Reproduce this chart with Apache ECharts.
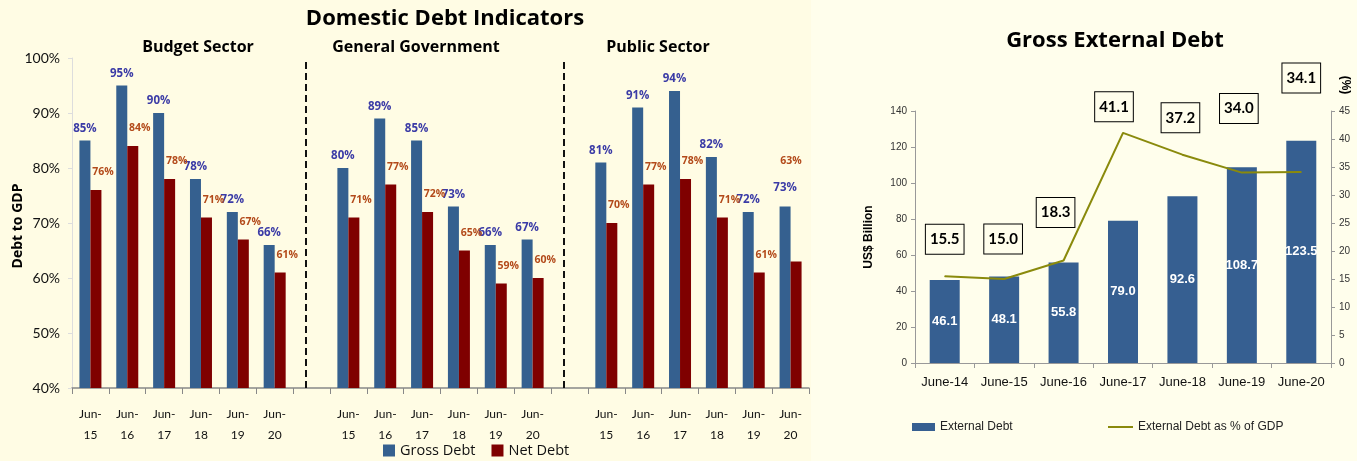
<!DOCTYPE html>
<html>
<head>
<meta charset="utf-8">
<script src="https://cdn.jsdelivr.net/npm/echarts@6/dist/echarts.min.js"></script>
<style>
html,body{margin:0;padding:0;background:#FFFDE9;}
#c{width:1357px;height:461px;}
</style>
</head>
<body>
<div id="c"></div>
<script>
// ---- Domestic debt (percent of GDP) ----
const years = ['15','16','17','18','19','20'];
const budgetGross = [85, 95, 90, 78, 72, 66];
const budgetNet   = [76, 84, 78, 71, 67, 61];
const govGross    = [80, 89, 85, 73, 66, 67];
const govNet      = [71, 77, 72, 65, 59, 60];
const publicGross = [81, 91, 94, 82, 72, 73];
const publicNet   = [70, 77, 78, 71, 61, 63];
const sectorNames = ['Budget Sector', 'General Government', 'Public Sector'];
const domesticTicks = [40, 50, 60, 70, 80, 90, 100];

// ---- External debt ----
const extYears = ['June-14','June-15','June-16','June-17','June-18','June-19','June-20'];
const extDebt  = [46.1, 48.1, 55.8, 79.0, 92.6, 108.7, 123.5];
const extPct   = [15.5, 15.0, 18.3, 41.1, 37.2, 34.0, 34.1];

// build category axis with gap slots between sectors
const cats = [];
const grossData = [];
const netData = [];
[[budgetGross, budgetNet], [govGross, govNet], [publicGross, publicNet]].forEach((pair, s) => {
  if (s > 0) { cats.push(''); grossData.push('-'); netData.push('-'); }
  years.forEach((y, i) => {
    cats.push('Jun-\n' + y);
    grossData.push(pair[0][i]);
    netData.push(pair[1][i]);
  });
});
const gapIdx = [];
cats.forEach((c, i) => { if (c === '') gapIdx.push(i); });

// label placement tweaks (presentation only)
const netLabelOverride = {19: [-5, -90]};
const grossLabelOverride = {19: [0, -8]};
const pctLabelShift = [[0,-17],[-1,-20],[-8,-28],[-9,-6],[-2,-17],[-3,-44],[0,-74]];

const F = 'Lato, "Open Sans", sans-serif';
const O = '"Open Sans", Lato, sans-serif';
const A = '"Liberation Sans", Arial, sans-serif';

const grossSeriesData = grossData.map((v, i) => {
  if (grossLabelOverride[i]) return {value: v, label: {offset: grossLabelOverride[i]}};
  return v;
});
const netSeriesData = netData.map((v, i) => {
  if (netLabelOverride[i]) return {value: v, label: {offset: netLabelOverride[i]}};
  return v;
});
const pctSeriesData = extPct.map((v, i) => ({value: v, label: {offset: pctLabelShift[i]}}));

const chart = echarts.init(document.getElementById('c'), null, {renderer: 'canvas'});
const option = {
  backgroundColor: '#FFFDE9',
  animation: false,
  title: [
    {text: 'Domestic Debt Indicators', left: 440, top: 3, textAlign: 'center',
     textStyle: {fontFamily: O, fontSize: 22, fontWeight: 'bold', color: '#000'}},
    {text: 'Gross External Debt', left: 1110, top: 25, textAlign: 'center',
     textStyle: {fontFamily: O, fontSize: 22, fontWeight: 'bold', color: '#000'}}
  ],
  graphic: [
    {type: 'rect', z: -10, silent: true, shape: {x: 0, y: 0, width: 811, height: 461}, style: {fill: '#FFFCE4'}},
    {type: 'rect', z: -10, silent: true, shape: {x: 811, y: 0, width: 546, height: 461}, style: {fill: '#FFFEEC'}},
    {type: 'text', x: 198, y: 47, style: {text: sectorNames[0], font: 'bold 16px ' + O, fill: '#000', align: 'center', verticalAlign: 'middle'}},
    {type: 'text', x: 416, y: 47, style: {text: sectorNames[1], font: 'bold 16px ' + O, fill: '#000', align: 'center', verticalAlign: 'middle'}},
    {type: 'text', x: 658, y: 47, style: {text: sectorNames[2], font: 'bold 16px ' + O, fill: '#000', align: 'center', verticalAlign: 'middle'}},
    {type: 'text', x: 18, y: 226, rotation: Math.PI / 2,
     style: {text: 'Debt to GDP', font: 'bold 14px ' + O, fill: '#000', align: 'center', verticalAlign: 'middle'}},
    {type: 'text', x: 869, y: 237, rotation: Math.PI / 2,
     style: {text: 'US$ Billion', font: 'bold 12px ' + A, fill: '#000', align: 'center', verticalAlign: 'middle'}},
    {type: 'text', x: 1345, y: 85, rotation: -Math.PI / 2,
     style: {text: '(%)', font: 'bold 12px ' + A, fill: '#000', align: 'center', verticalAlign: 'middle'}}
  ],
  legend: [
    {data: ['Gross Debt', 'Net Debt'], left: 383, top: 443, itemWidth: 12, itemHeight: 12, itemGap: 16,
     icon: 'rect', textStyle: {fontFamily: O, fontSize: 14.5, color: '#111'}, padding: 0},
    {data: [{name: 'External Debt', icon: 'rect'}], left: 912, top: 421, itemWidth: 23, itemHeight: 8, padding: 0,
     textStyle: {fontFamily: A, fontSize: 12, color: '#222'}},
    {data: [{name: 'External Debt as % of GDP', icon: 'rect'}], left: 1108, top: 421, itemWidth: 25, itemHeight: 2, padding: 0,
     textStyle: {fontFamily: A, fontSize: 12, color: '#222'}}
  ],
  grid: [
    {left: 72, right: 548, top: 58, bottom: 73},
    {left: 915, right: 26, top: 111, bottom: 98}
  ],
  xAxis: [
    {type: 'category', gridIndex: 0, data: cats,
     axisLine: {lineStyle: {color: '#888', width: 1.5}},
     axisTick: {show: true, interval: 0, length: 6, lineStyle: {color: '#888'}},
     axisLabel: {interval: 0, margin: 16, fontFamily: F, fontSize: 12, lineHeight: 21, color: '#111'}},
    {type: 'category', gridIndex: 1, data: extYears,
     axisLine: {lineStyle: {color: '#999'}},
     axisTick: {show: true, interval: 0, length: 5, lineStyle: {color: '#999'}},
     axisLabel: {interval: 0, margin: 13, fontFamily: A, fontSize: 13, color: '#111'}}
  ],
  yAxis: [
    {type: 'value', gridIndex: 0, min: domesticTicks[0], max: domesticTicks[domesticTicks.length - 1], interval: 10,
     axisLine: {show: true, lineStyle: {color: '#ddd'}},
     axisTick: {show: true, length: 4, lineStyle: {color: '#ddd'}},
     splitLine: {show: false},
     axisLabel: {formatter: '{value}%', margin: 12, fontFamily: F, fontSize: 14, color: '#111'}},
    {type: 'value', gridIndex: 1, min: 0, max: 140, interval: 20,
     axisLine: {show: true, lineStyle: {color: '#999'}},
     axisTick: {show: true, length: 4, lineStyle: {color: '#999'}},
     splitLine: {show: false},
     axisLabel: {margin: 8, fontFamily: A, fontSize: 10, color: '#333'}},
    {type: 'value', gridIndex: 1, position: 'right', min: 0, max: 45, interval: 5,
     axisLine: {show: true, lineStyle: {color: '#999'}},
     axisTick: {show: true, length: 4, lineStyle: {color: '#999'}},
     splitLine: {show: false},
     axisLabel: {margin: 8, fontFamily: A, fontSize: 10, color: '#333'}}
  ],
  series: [
    {name: 'Gross Debt', type: 'bar', xAxisIndex: 0, yAxisIndex: 0, data: grossSeriesData,
     barWidth: 11, barGap: '0%', itemStyle: {color: '#35608F'},
     label: {show: true, position: 'top', distance: 5, offset: [0, -1],
             formatter: p => Math.round(p.value) + '%',
             fontFamily: O, fontSize: 11.5, fontWeight: 'bold', color: '#3B3BA6'},
     markLine: {silent: true, symbol: 'none', label: {show: false},
                lineStyle: {color: '#111', width: 2, type: [7, 4]},
                data: gapIdx.map(i => ({xAxis: i}))}},
    {name: 'Net Debt', type: 'bar', xAxisIndex: 0, yAxisIndex: 0, data: netSeriesData,
     barWidth: 11, barGap: '0%', itemStyle: {color: '#7F0000'},
     label: {show: true, position: 'top', distance: 5, offset: [7, -7],
             formatter: p => Math.round(p.value) + '%',
             fontFamily: O, fontSize: 10.5, fontWeight: 'bold', color: '#B34A1A'}},
    {name: 'External Debt', type: 'bar', xAxisIndex: 1, yAxisIndex: 1, data: extDebt,
     barWidth: 30, itemStyle: {color: '#365F91'},
     label: {show: true, position: 'inside', formatter: p => p.value.toFixed(1),
             fontFamily: A, fontSize: 13, fontWeight: 'bold', color: '#fff'}},
    {name: 'External Debt as % of GDP', type: 'line', xAxisIndex: 1, yAxisIndex: 2, data: pctSeriesData,
     symbol: 'circle', symbolSize: 1, showSymbol: true,
     lineStyle: {color: '#8A8A0C', width: 2}, itemStyle: {color: '#8A8A0C'},
     label: {show: true, position: 'top', distance: 5, formatter: p => p.value.toFixed(1),
             fontFamily: F, fontSize: 15, fontWeight: 'bold', color: '#000', lineHeight: 15,
             backgroundColor: '#FFFEEC', borderColor: '#000', borderWidth: 1, padding: [7, 4]}}
  ]
};
chart.setOption(option);
</script>
</body>
</html>
